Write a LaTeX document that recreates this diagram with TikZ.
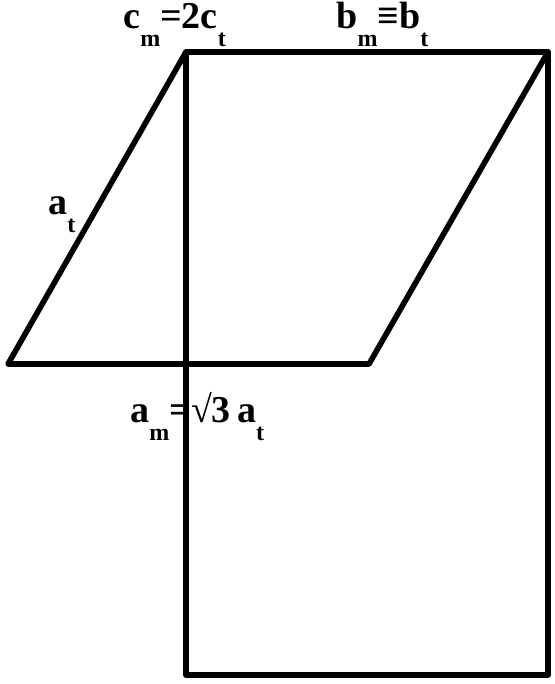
\documentclass[tikz,border=0pt]{standalone}
\usepackage{fontspec}
\setmainfont{Liberation Serif}
\newcommand{\lowsub}[1]{\raisebox{-9pt}{\fontsize{12}{12}\selectfont #1}}

\begin{document}
\begin{tikzpicture}[x=0.5pt,y=-0.5pt]
\tikzset{cell/.style = {draw=black, line width=2.8pt, line join=round}}
\tikzset{lbl/.style = {inner sep=0pt, anchor=base west, font=\fontsize{19}{19}\selectfont\bfseries}}
\useasboundingbox (0,0) rectangle (555,684);
% corners of the rectangular cell
\coordinate (M1) at (186,52);
\coordinate (M2) at (548,52);
\coordinate (M3) at (548,675);
\coordinate (M4) at (186,675);
% bottom corners of the slanted cell
\coordinate (T1) at (8,364);
\coordinate (T2) at (369,364);

% draw both cells
\draw[cell] (M1) -- (M2) -- (M3) -- (M4) -- cycle;
\draw[cell] (T1) -- (M1) -- (M2) -- (T2) -- cycle;

% labels
\node[lbl] (lc) at (123,29) {c\lowsub{m}=2c\lowsub{t}};
\node[lbl] (lb) at (336,29) {b\lowsub{m}≡b\lowsub{t}};
\node[lbl] (la) at (48,214) {a\lowsub{t}};
\node[lbl] (lam) at (130,422) {a\lowsub{m}=√3\,a\lowsub{t}};
\end{tikzpicture}
\end{document}
